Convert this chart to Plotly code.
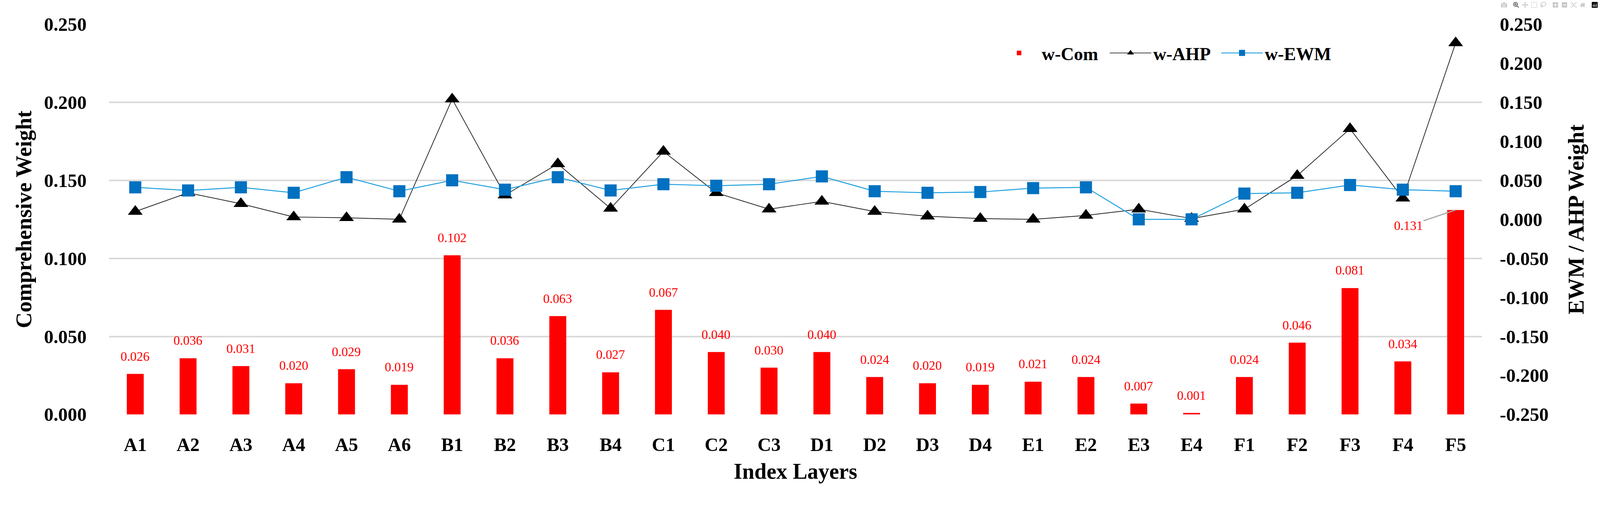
import plotly.graph_objects as go

categories = ["A1", "A2", "A3", "A4", "A5", "A6", "B1", "B2", "B3", "B4",
              "C1", "C2", "C3", "D1", "D2", "D3", "D4", "E1", "E2", "E3",
              "E4", "F1", "F2", "F3", "F4", "F5"]

w_com = [0.026, 0.036, 0.031, 0.020, 0.029, 0.019, 0.102, 0.036, 0.063, 0.027,
         0.067, 0.040, 0.030, 0.040, 0.024, 0.020, 0.019, 0.021, 0.024, 0.007,
         0.001, 0.024, 0.046, 0.081, 0.034, 0.131]

w_ahp = [0.010, 0.034, 0.020, 0.003, 0.002, 0.000, 0.154, 0.031, 0.071, 0.014,
         0.087, 0.034, 0.013, 0.023, 0.010, 0.004, 0.001, 0.000, 0.005, 0.013,
         0.001, 0.013, 0.056, 0.116, 0.027, 0.226]

w_ewm = [0.041, 0.037, 0.041, 0.034, 0.054, 0.036, 0.050, 0.038, 0.054, 0.037,
         0.045, 0.043, 0.045, 0.055, 0.036, 0.034, 0.035, 0.040, 0.041, 0.000,
         0.000, 0.033, 0.034, 0.044, 0.038, 0.036]

left_ticks = [0.000, 0.050, 0.100, 0.150, 0.200, 0.250]
right_ticks = [-0.250, -0.200, -0.150, -0.100, -0.050, 0.000,
               0.050, 0.100, 0.150, 0.200, 0.250]

SERIF = "Liberation Serif, Times New Roman, serif"
FIG_W, FIG_H = 4233, 1324

fig = go.Figure()

fig.add_trace(go.Bar(
    x=categories, y=w_com, name="w-Com",
    marker=dict(color="#FF0000", line=dict(width=0)),
    width=0.32, yaxis="y",
))

fig.add_trace(go.Scatter(
    x=categories, y=w_ahp, name="w-AHP", mode="lines+markers",
    line=dict(color="#262626", width=2),
    marker=dict(symbol="triangle-up", size=34, color="#000000"),
    yaxis="y2",
))

fig.add_trace(go.Scatter(
    x=categories, y=w_ewm, name="w-EWM", mode="lines+markers",
    line=dict(color="#1FA0DE", width=2.5),
    marker=dict(symbol="square", size=32, color="#0070C0"),
    yaxis="y2",
))

annotations = []
for cat, val in zip(categories, w_com):
    if cat == categories[-1]:
        annotations.append(dict(
            x=cat, y=val, xref="x", yref="y", text=f"{val:.3f}",
            showarrow=True, arrowhead=0, arrowwidth=3, arrowcolor="#A6A6A6",
            ax=-125, ay=42, standoff=0,
            font=dict(family=SERIF, size=34, color="#FF0000"),
        ))
    else:
        annotations.append(dict(
            x=cat, y=val, xref="x", yref="y", text=f"{val:.3f}",
            showarrow=False, yanchor="bottom", yshift=26,
            font=dict(family=SERIF, size=34, color="#FF0000"),
        ))

annotations.append(dict(
    text="EWM / AHP Weight", xref="paper", yref="paper",
    x=1.0685, y=0.5, xanchor="center", yanchor="middle",
    textangle=-90, showarrow=False,
    font=dict(family=SERIF, size=58, weight="bold", color="#000000"),
))

fig.update_layout(
    width=FIG_W, height=FIG_H,
    margin=dict(l=288, r=312, t=64, b=227),
    paper_bgcolor="white", plot_bgcolor="white",
    font=dict(family=SERIF, color="#000000"),
    showlegend=True,
    legend=dict(
        orientation="h", x=0.6463, y=0.926, xanchor="left", yanchor="middle",
        font=dict(family=SERIF, size=48, weight="bold", color="#000000"),
        itemwidth=110, entrywidth=170, bgcolor="rgba(0,0,0,0)",
        traceorder="normal",
    ),
    xaxis=dict(
        type="category", categoryorder="array", categoryarray=categories,
        range=[-0.5, len(categories) - 0.5],
        showgrid=False, zeroline=False, showline=False, ticks="",
        ticklabelstandoff=46,
        tickfont=dict(family=SERIF, size=50, weight="bold"),
        title=dict(text="Index Layers", standoff=22,
                   font=dict(family=SERIF, size=58, weight="bold")),
    ),
    yaxis=dict(
        range=[0, 0.25], tickvals=left_ticks,
        ticktext=[f"{v:.3f}" for v in left_ticks],
        showgrid=True, gridcolor="#D9D9D9", gridwidth=4,
        zeroline=False, showline=False, ticks="",
        ticklabelstandoff=58,
        tickfont=dict(family=SERIF, size=50, weight="bold"),
        title=dict(text="Comprehensive Weight", standoff=14,
                   font=dict(family=SERIF, size=58, weight="bold")),
    ),
    yaxis2=dict(
        range=[-0.25, 0.25], tickvals=right_ticks,
        ticktext=[f"{v:.3f}" for v in right_ticks],
        overlaying="y", side="right",
        showgrid=False, zeroline=False, showline=False, ticks="",
        ticklabelstandoff=46,
        tickfont=dict(family=SERIF, size=50, weight="bold"),
    ),
    annotations=annotations,
)

post = """
(function(){
  document.documentElement.style.margin='0';
  document.body.style.margin='0';
  document.documentElement.style.overflow='hidden';
  document.body.style.overflow='hidden';
  var gd = document.getElementById('{plot_id}');
  var w = document.documentElement.clientWidth || window.innerWidth;
  var h = document.documentElement.clientHeight || window.innerHeight;
  var s = Math.min(1, w / %d, h / %d);
  if (s < 1) {
    gd.style.transformOrigin = '0 0';
    gd.style.transform = 'scale(' + s + ')';
  }
})();
""" % (FIG_W, FIG_H)

fig.write_html("out.html", post_script=post)
